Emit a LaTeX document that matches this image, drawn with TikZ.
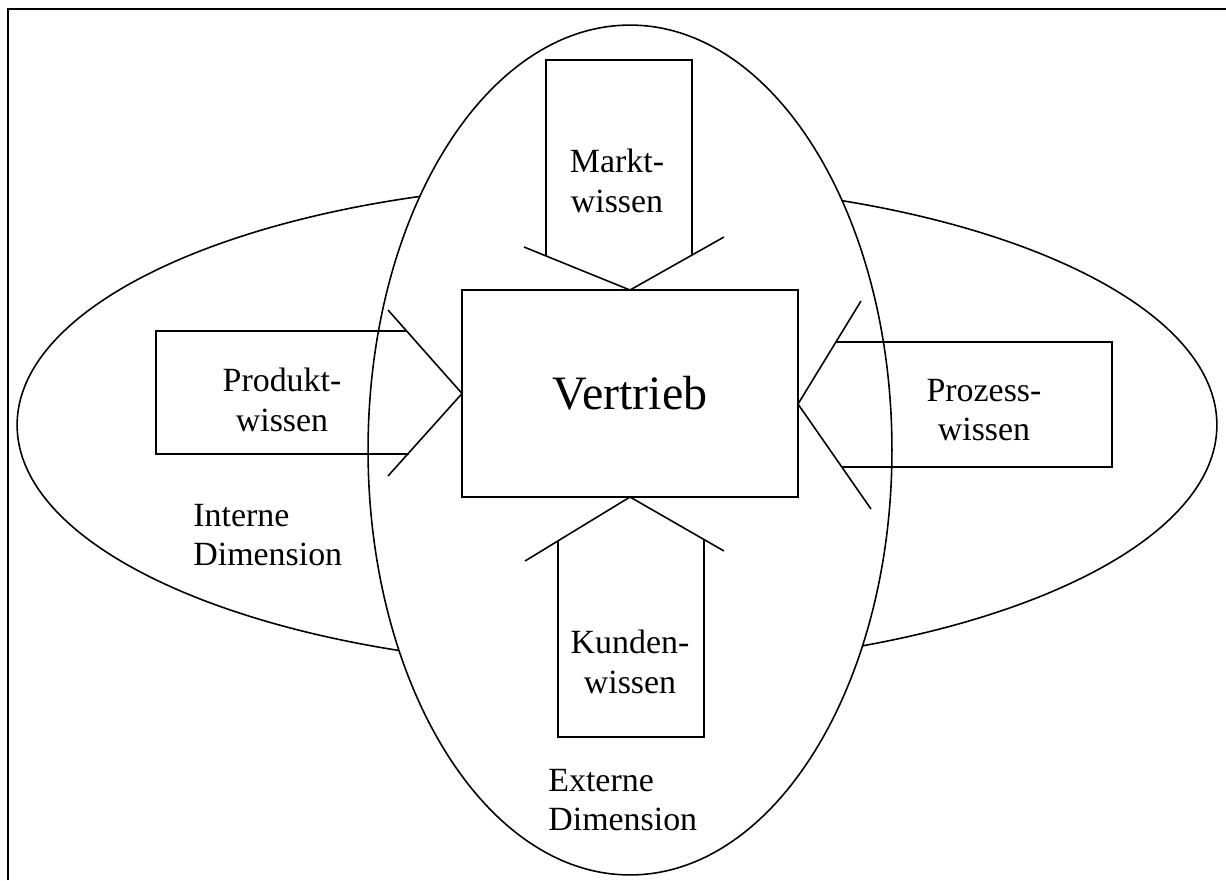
\documentclass[tikz,border=0pt]{standalone}
\usepackage{fontspec}
\setmainfont{Liberation Serif}
\usepackage{tikz}
\tikzset{
  umriss/.style={line width=0.9pt, line join=miter},
  rahmen/.style={line width=1.2pt},
  wissen/.style={align=center, inner sep=0pt, font=\fontsize{19.3}{22.5}\selectfont},
  dimension/.style={align=left, anchor=west, inner sep=0pt, font=\fontsize{19.3}{22.5}\selectfont},
  kernbox/.style={draw, line width=0.9pt, minimum width=6.72cm, minimum height=4.14cm,
                  inner sep=0pt, outer sep=0pt, font=\fontsize{27.3}{30}\selectfont}
}

\begin{document}
\begin{tikzpicture}[x=0.02cm, y=-0.02cm]
  \useasboundingbox (0,0) rectangle (1226,880);
  \draw[rahmen] (8,880) -- (8,9) -- (1226,9);
  \draw[umriss] (617,425) ellipse [x radius=12cm, y radius=4.84cm];
  \draw[umriss, fill=white] (630,450) ellipse [x radius=5.24cm, y radius=8.5cm];
  \node[kernbox] (vertrieb) at (630,393.5) {Vertrieb};
  % Marktwissen
  \draw[umriss] (546,256) -- (546,60) -- (692,60) -- (692,255);
  \draw[umriss] (524,247) -- (vertrieb.north) -- (724,237);
  % Produktwissen
  \draw[umriss] (407,331) -- (156,331) -- (156,454) -- (409,454);
  \draw[umriss] (388,310) -- (vertrieb.west) -- (388,476);
  % Prozesswissen
  \coordinate (prozesspitze) at (798,404);
  \draw[umriss] (836,342) -- (1112,342) -- (1112,467) -- (842,467);
  \draw[umriss] (861,301) -- (prozesspitze) -- (871,509);
  % Kundenwissen
  \draw[umriss] (558,541) -- (558,737) -- (704,737) -- (704,540);
  \draw[umriss] (525,561) -- (vertrieb.south) -- (724,551);
  \node[wissen] (markt) at (617,181) {Markt-\\wissen};
  \node[wissen] (produkt) at (282,400) {Produkt-\\wissen};
  \node[wissen] (prozess) at (984,410) {Prozess-\\wissen};
  \node[wissen] (kunden) at (630,662) {Kunden-\\wissen};
  \node[dimension] (intern) at (193,535) {Interne\\Dimension};
  \node[dimension] (extern) at (548,800) {Externe\\Dimension};
\end{tikzpicture}
\end{document}
